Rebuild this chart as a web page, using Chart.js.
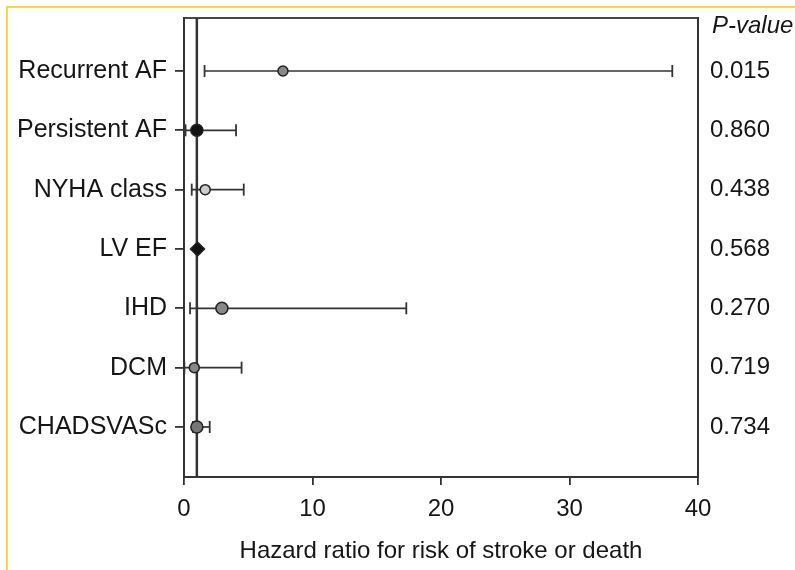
<!DOCTYPE html>
<html>
<head>
<meta charset="utf-8">
<script src="https://cdn.jsdelivr.net/npm/chart.js@4.4.1/dist/chart.umd.min.js"></script>
<style>
    body { margin: 0; background: #fff; }
    #wrap { position: relative; width: 795px; height: 570px; overflow: hidden; }
    #frame {
        position: absolute; left: 6px; top: 6px; width: 820px; height: 600px;
        border-top: 2px solid #f7d64c; border-left: 2px solid #f7d64c;
    }
    #chart { position: absolute; left: 0; top: 0; }
</style>
</head>
<body>
<div id="wrap">
    <div id="frame"></div>
    <canvas id="chart" width="795" height="570"></canvas>
</div>
<script>
// Forest plot data
const categories = ['Recurrent AF', 'Persistent AF', 'NYHA class', 'LV EF', 'IHD', 'DCM', 'CHADSVASc'];
const hazardRatio = [7.7, 1.0, 1.65, 1.05, 2.95, 0.8, 1.0];
const lowerCI = [1.6, 0.12, 0.6, 0.97, 0.47, 0.03, 0.7];
const upperCI = [38.0, 4.05, 4.65, 1.12, 17.3, 4.48, 2.0];
const pValues = ['0.015', '0.860', '0.438', '0.568', '0.270', '0.719', '0.734'];
const pHeader = 'P-value';
const xTicks = [0, 10, 20, 30, 40];
const refLine = 1;

const yMin = 0.107, yMax = 7.843;
const font = 'Liberation Sans, Arial, sans-serif';
const ink = '#161616';

// marker look per row
const markerStyle = ['circle', 'circle', 'circle', 'rectRot', 'circle', 'circle', 'circle'];
const markerFill = ['#888', '#111', '#ccc', '#111', '#888', '#888', '#777'];
const markerSize = [5, 6, 5, 7, 6, 5, 6];

const datasets = [];

datasets.push({
    type: 'scatter',
    order: 0,
    data: categories.map((c, i) => ({ x: hazardRatio[i], y: i + 1 })),
    pointStyle: markerStyle,
    pointRadius: markerSize,
    pointBackgroundColor: markerFill,
    pointBorderColor: '#222',
    pointBorderWidth: 1.5
});

// error bars with end caps
categories.forEach((c, i) => {
    datasets.push({
        type: 'line',
        order: 1,
        data: [{ x: lowerCI[i], y: i + 1 }, { x: upperCI[i], y: i + 1 }],
        borderColor: '#333',
        borderWidth: 1.7,
        pointStyle: 'line',
        rotation: 90,
        pointRadius: 6,
        pointBorderColor: '#333',
        pointBorderWidth: 1.8
    });
});

// vertical line at HR = 1
datasets.push({
    type: 'line',
    order: 2,
    data: [{ x: refLine, y: yMin }, { x: refLine, y: yMax }],
    borderColor: '#333',
    borderWidth: 2.5,
    pointRadius: 0
});

const boxPlugin = {
    id: 'box',
    afterDraw(chart) {
        const { ctx, chartArea: a } = chart;
        ctx.save();
        ctx.strokeStyle = '#333';
        ctx.lineWidth = 1.8;
        ctx.strokeRect(a.left, a.top, a.right - a.left, a.bottom - a.top);
        // header over the p-value column
        ctx.fillStyle = ink;
        ctx.font = 'italic 24px ' + font;
        ctx.textBaseline = 'middle';
        ctx.textAlign = 'left';
        ctx.fillText(pHeader, a.right + 14, 26);
        ctx.restore();
    }
};

const noPad = scale => {
    scale.paddingTop = 0;
    scale.paddingBottom = 0;
    scale.paddingLeft = 0;
    scale.paddingRight = 0;
};

new Chart(document.getElementById('chart'), {
    type: 'scatter',
    data: { datasets: datasets },
    plugins: [boxPlugin],
    options: {
        responsive: false,
        animation: false,
        layout: { padding: { top: 18, left: 0, right: 0, bottom: 0 } },
        plugins: {
            legend: { display: false },
            tooltip: { enabled: false }
        },
        scales: {
            x: {
                type: 'linear',
                min: 0,
                max: 40,
                afterBuildTicks: axis => { axis.ticks = xTicks.map(v => ({ value: v })); },
                afterFit: scale => { scale.height = 93; noPad(scale); },
                border: { color: '#333', width: 1.8 },
                grid: { drawOnChartArea: false, tickLength: 8, color: '#333', lineWidth: 1.8 },
                ticks: { color: ink, font: { family: font, size: 24 }, padding: 10 },
                title: {
                    display: true,
                    text: 'Hazard ratio for risk of stroke or death',
                    color: ink,
                    font: { family: font, size: 24 },
                    padding: { top: 0 }
                }
            },
            y: {
                type: 'linear',
                position: 'left',
                reverse: true,
                min: yMin,
                max: yMax,
                afterBuildTicks: axis => { axis.ticks = categories.map((c, i) => ({ value: i + 1 })); },
                afterFit: scale => { scale.width = 184; noPad(scale); },
                border: { color: '#333', width: 1.8 },
                grid: { drawOnChartArea: false, tickLength: 9, color: '#333', lineWidth: 1.8 },
                ticks: {
                    color: ink,
                    font: { family: font, size: 25 },
                    padding: 8,
                    callback: v => categories[Math.round(v) - 1]
                }
            },
            y2: {
                type: 'linear',
                position: 'right',
                reverse: true,
                min: yMin,
                max: yMax,
                afterBuildTicks: axis => { axis.ticks = pValues.map((p, i) => ({ value: i + 1 })); },
                afterFit: scale => { scale.width = 97; noPad(scale); },
                border: { color: '#333', width: 1.8 },
                grid: { display: false },
                ticks: {
                    color: ink,
                    padding: 4,
                    font: { family: font, size: 24 },
                    callback: v => pValues[Math.round(v) - 1]
                }
            }
        }
    }
});
</script>
</body>
</html>
